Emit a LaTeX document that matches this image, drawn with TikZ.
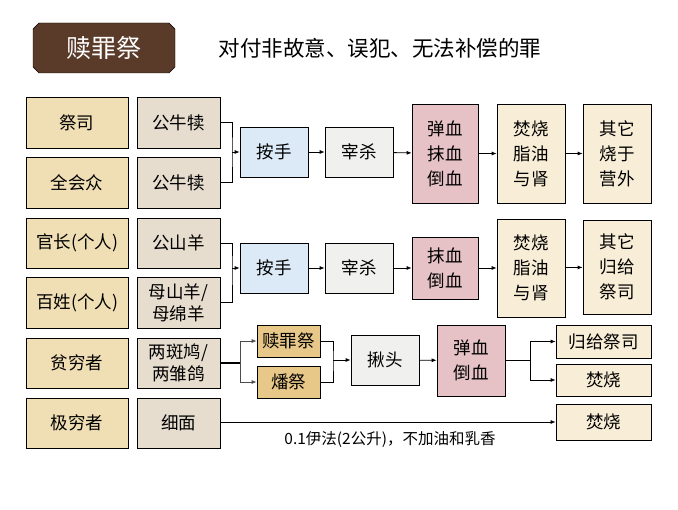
\documentclass[tikz,border=0pt]{standalone}
\usepackage{fontspec}
\setmainfont{Noto Sans CJK SC}
\usetikzlibrary{arrows.meta}
\definecolor{tanA}{HTML}{F0DFB4}
\definecolor{tanB}{HTML}{E6DDCF}
\definecolor{blu}{HTML}{DCEAF8}
\definecolor{gry}{HTML}{F0F0EE}
\definecolor{pnk}{HTML}{E6C2C6}
\definecolor{crm}{HTML}{F8EDD6}
\definecolor{org}{HTML}{E8C888}
\definecolor{brn}{HTML}{5A3A28}
\begin{document}
\begin{tikzpicture}[x=1pt,y=-1pt,
 bx/.style={draw=black,line width=0.7pt,inner sep=0pt,align=center,font=\fontsize{17.5}{25}\selectfont},
 ar/.style={-{Latex[length=5pt,width=4pt]},line width=0.8pt},
 ln/.style={line width=0.8pt}]
\useasboundingbox (0,0) rectangle (678,510);
% title
\fill[brn,draw=black] (33,29)--(39,23)--(169,23)--(175,29)--(175,67)--(169,73)--(39,73)--(33,67)--cycle;
\node[text=white,font=\fontsize{25}{28}\selectfont] (title) at (104,48) {赎罪祭};
\node[font=\fontsize{21.5}{24}\selectfont] (sub) at (380,48) {对付非故意、误犯、无法补偿的罪};
% column 1
\foreach \n/\t/\a/\b in {a1/祭司/97/148,a2/全会众/157/208,a3/官长(个人)/218/268,a4/百姓(个人)/277/328,a5/贫穷者/338/388,a6/极穷者/398/448}
 \node[bx,fill=tanA,minimum width=102,minimum height={\b-\a}] (\n) at (77,{(\a+\b)/2}) {\t};
\foreach \n/\t/\a/\b in {b1/{公牛犊}/97/148,b2/{公牛犊}/157/208,b3/{公山羊}/218/268,b4/{母山羊/\\母绵羊}/277/328,b5/{两斑鸠/\\两雏鸽}/338/388,b6/{细面}/398/448}
 \node[bx,fill=tanB,minimum width=83,minimum height={\b-\a},font=\fontsize{17.5}{22}\selectfont] (\n) at (178.5,{(\a+\b)/2}) {\t};
% row 1
\node[bx,fill=blu,minimum width=68,minimum height=50] (h1) at (274,152) {按手};
\node[bx,fill=gry,minimum width=68,minimum height=50] (k1) at (359,152) {宰杀};
\node[bx,fill=pnk,minimum width=66,minimum height=99] (x1) at (445,153.5) {弹血\\抹血\\倒血};
\node[bx,fill=crm,minimum width=68,minimum height=99] (f1) at (531,153.5) {焚烧\\脂油\\与肾};
\node[bx,fill=crm,minimum width=68,minimum height=99] (o1) at (617,153.5) {其它\\烧于\\营外};
\draw[ln] (b1.east)-|(232,152)|-(b2.east);
\coordinate (j1) at (232,152);
\draw[ar] (j1)--(h1);
\draw[ar] (h1)--(k1); \draw[ar] (k1)--(x1); \draw[ar] (x1)--(f1); \draw[ar] (f1)--(o1);
% row 2
\node[bx,fill=blu,minimum width=68,minimum height=50] (h2) at (274,268) {按手};
\node[bx,fill=gry,minimum width=68,minimum height=50] (k2) at (359,268) {宰杀};
\node[bx,fill=pnk,minimum width=66,minimum height=62] (x2) at (445,268) {抹血\\倒血};
\node[bx,fill=crm,minimum width=68,minimum height=98] (f2) at (531,268) {焚烧\\脂油\\与肾};
\node[bx,fill=crm,minimum width=68,minimum height=94] (o2) at (617,267) {其它\\归给\\祭司};
\draw[ln] (b3.east)-|(232,268)|-(b4.east);
\coordinate (j2) at (232,268);
\draw[ar] (j2)--(h2);
\draw[ar] (h2)--(k2); \draw[ar] (k2)--(x2); \draw[ar] (x2)--(f2); \draw[ar] (f2)--(o2);
% row 3
\node[bx,fill=org,minimum width=63,minimum height=32] (s1) at (288.5,341) {赎罪祭};
\node[bx,fill=org,minimum width=63,minimum height=32] (s2) at (288.5,382) {燔祭};
\node[bx,fill=gry,minimum width=68,minimum height=50] (q) at (385,360) {揪头};
\node[bx,fill=pnk,minimum width=68,minimum height=71] (x3) at (471,360.5) {弹血\\倒血};
\node[bx,fill=crm,minimum width=95,minimum height=33] (g1) at (603.5,341.5) {归给祭司};
\node[bx,fill=crm,minimum width=95,minimum height=32] (g2) at (603.5,380) {焚烧};
\node[bx,fill=crm,minimum width=95,minimum height=36] (g3) at (603.5,422) {焚烧};
\coordinate (j3) at (240,363);
\draw[line width=1.6pt] (b5.east)--(j3);
\draw[ar,gray!60!black] (j3)|-(s1.west);
\draw[ar,gray!60!black] (j3)|-(s2.west);
\draw[ln] (s1.east)-|(333,360)|-(s2.east);
\coordinate (j4) at (333,360);
\draw[ar] (j4)--(q);
\draw[ar] (q)--(x3);
\coordinate (j5) at (530,360.5);
\draw[ln] (x3.east)--(j5);
\draw[ar] (j5)|-(g1.west);
\draw[ar] (j5)|-(g2.west);
\draw[ar] (b6.east|-g3)--(g3.west);
\node[font=\fontsize{15.5}{18}\selectfont] (note) at (390,440) {0.1伊法(2公升)，不加油和乳香};
\end{tikzpicture}
\end{document}
